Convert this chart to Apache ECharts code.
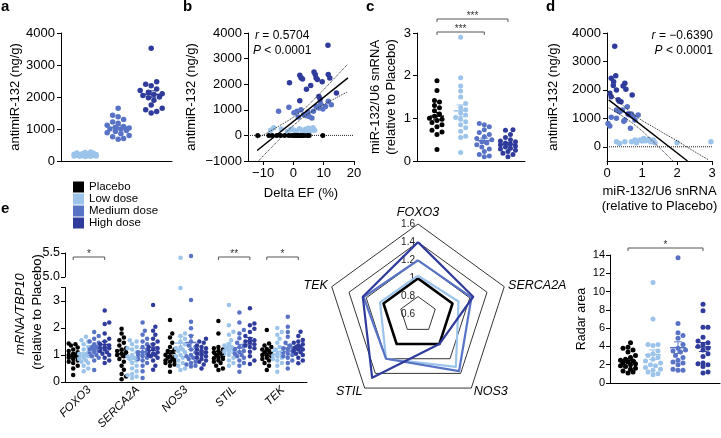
<!DOCTYPE html>
<html><head><meta charset="utf-8">
<script src="https://cdn.jsdelivr.net/npm/echarts@6/dist/echarts.min.js"></script>
<style>html,body{margin:0;padding:0;background:#fff}#c{width:721px;height:438px}</style>
</head><body><div id="c"></div><script>
const FONT = "'Liberation Sans', Arial, Helvetica, sans-serif";
const groups = ['Placebo', 'Low dose', 'Medium dose', 'High dose'];
const COLORS = ['#000000', '#9cc4ea', '#5873c6', '#2f3c9c'];

// ---- panel a: antimiR-132 (ng/g)
const aLow = [280, 265, 250, 240, 230, 220, 210, 200, 195, 185, 180, 170, 165, 160, 155, 150, 145, 140, 170, 190];
const aMedium = [1650, 1430, 1380, 1300, 1220, 1180, 1120, 1080, 1050, 1030, 1000, 990, 950, 920, 880, 850, 800, 760, 700, 680];
const aHigh = [3520, 2480, 2400, 2350, 2250, 2200, 2150, 2100, 2080, 2050, 2000, 1980, 1900, 1750, 1650, 1600, 1550, 1500];

// ---- panel b: Delta EF (%) vs antimiR-132
const bPlaceboX = [-11.8, -8.1, -7.0, -5.5, -4.2, -2.9, -1.5, -0.5, 0.2, 0.8, 1.2, 1.8, 2.4, 3.0, 3.5, 4.5, 5.2, 9.7];
const bPlaceboY = [0, 0, 0, 0, 0, 0, 0, 0, 0, 0, 0, 0, 0, 0, 0, 0, 0, 0];
const bLowX = [-7.5, -6.5, -4.0, -2.0, -1.0, 0.5, 2.0, 3.0, 3.5, 4.0, 4.5, 5.0, 5.5, 6.0, 6.5, 7.0, 3.0, 1.0, -0.5, 4.8];
const bLowY = [200, 300, 250, 150, 220, 180, 260, 200, 150, 240, 230, 280, 160, 230, 300, 200, 120, 100, 250, 180];
const bMediumX = [-4.9, -1.5, 1.2, 2.5, 3.4, 4.3, 5.2, 6.6, 7.5, 8.4, 9.7, 10.6, 11.5, 6.1, 1.6, 12.5, 0.2, 4.8, 9.0];
const bMediumY = [940, 1100, 940, 1000, 810, 770, 740, 940, 1130, 1070, 1030, 1130, 1330, 680, 720, 1200, 880, 900, 1250];
const bHighX = [11.4, -1.3, 2.1, 2.5, 3.0, 6.8, 7.2, 7.5, 7.9, 11.5, 12.0, 5.7, 4.3, 8.4, 8.8, 14.2, 2.1, 9.5];
const bHighY = [3520, 2060, 2350, 2250, 2200, 2480, 2380, 2240, 2180, 2380, 2240, 1950, 1800, 1520, 1420, 1660, 1350, 2100];
const bFitX = [-12, 18], bFitY = [-590, 2250];
const bUpperX = [-12, -5, 2, 8, 14, 18], bUpperY = [-110, 350, 890, 1550, 2290, 2790];
const bLowerX = [-12, -5, 2, 8, 14, 18], bLowerY = [-1060, -200, 590, 1060, 1460, 1710];

// ---- panel c: miR-132/U6 snRNA
const cPlacebo = [1.88, 1.65, 1.42, 1.38, 1.3, 1.25, 1.18, 1.1, 1.05, 1.0, 0.98, 0.95, 0.9, 0.85, 0.8, 0.72, 0.68, 0.62, 0.27];
const cLow = [2.9, 1.95, 1.76, 1.64, 1.5, 1.35, 1.25, 1.2, 1.12, 1.08, 1.02, 0.98, 0.92, 0.85, 0.78, 0.7, 0.58, 0.55, 0.2];
const cMedium = [0.88, 0.85, 0.8, 0.73, 0.67, 0.62, 0.57, 0.53, 0.5, 0.45, 0.42, 0.38, 0.33, 0.28, 0.22, 0.15, 0.1, 0.12];
const cHigh = [0.73, 0.72, 0.62, 0.55, 0.5, 0.47, 0.45, 0.42, 0.4, 0.38, 0.35, 0.33, 0.3, 0.28, 0.25, 0.22, 0.18, 0.15, 0.1];

// ---- panel d: miR-132/U6 vs antimiR-132
const dHighX = [0.22, 0.12, 0.25, 0.19, 0.08, 0.46, 0.54, 0.51, 0.32, 0.72, 0.12, 0.27, 0.40, 0.18, 0.60, 0.35];
const dHighY = [3530, 2410, 2500, 2290, 1880, 2140, 2020, 2235, 1650, 1820, 1760, 2000, 1580, 2150, 1150, 1600];
const dMediumX = [0.03, 0.08, 0.27, 0.36, 0.51, 0.65, 0.75, 0.80, 0.89, 0.67, 0.44, 0.58, 0.27, 0.12, 0.70, 0.48];
const dMediumY = [820, 730, 1000, 1235, 940, 1120, 1060, 940, 1120, 650, 1290, 1410, 1290, 1035, 1150, 900];
const dLowX = [0.27, 0.51, 0.80, 0.94, 1.05, 1.13, 1.25, 1.37, 2.00, 2.97, 0.70, 1.20, 0.84, 1.32, 0.36, 1.00, 1.10];
const dLowY = [176, 176, 235, 235, 294, 235, 176, 141, 141, 176, 176, 260, 141, 235, 118, 200, 210];
const dFitX = [0.05, 2.3], dFitY = [1650, -500];
const dUpperX = [0, 0.75, 1.5, 2.0, 2.3, 2.9], dUpperY = [2000, 1150, 565, 210, -20, -460];
const dLowerX = [0, 0.75, 1.5, 1.8, 2.0], dLowerY = [1400, 810, -35, -400, -630];

// ---- panel e: mRNA/TBP10 per gene, groups [Placebo, Low, Medium, High]
const eGenes = ['FOXO3', 'SERCA2A', 'NOS3', 'STIL', 'TEK'];
const eFOXO3 = [
  [1.43, 1.35, 1.28, 1.2, 1.1, 1.05, 1.0, 0.95, 0.9, 0.85, 0.8, 0.75, 0.7, 0.6, 0.5, 0.26, 1.4, 1.15, 1.0, 0.92],
  [1.68, 1.55, 1.5, 1.4, 1.3, 1.2, 1.1, 1.05, 1.0, 0.95, 0.9, 0.85, 0.8, 0.75, 0.7, 0.6, 0.5, 0.4, 1.0, 0.95],
  [1.85, 1.7, 1.6, 1.5, 1.45, 1.4, 1.3, 1.25, 1.2, 1.15, 1.1, 1.05, 1.0, 0.95, 0.9, 0.8, 0.44, 1.3, 1.2],
  [2.65, 2.2, 2.15, 1.8, 1.6, 1.5, 1.4, 1.35, 1.3, 1.25, 1.2, 1.15, 1.1, 1.05, 1.0, 0.9, 0.8, 0.7, 1.25]];
const eSERCA2A = [
  [1.97, 1.8, 1.65, 1.55, 1.45, 1.35, 1.25, 1.15, 1.1, 1.05, 1.0, 0.95, 0.85, 0.75, 0.6, 0.45, 0.3, 0.2, 0.1, 1.2],
  [1.55, 1.5, 1.4, 1.3, 1.25, 1.2, 1.1, 1.0, 0.95, 0.9, 0.85, 0.8, 0.7, 0.6, 0.5, 0.4, 0.3, 0.25, 0.2, 0.15],
  [2.2, 1.9, 1.75, 1.6, 1.5, 1.4, 1.3, 1.2, 1.1, 1.05, 1.0, 0.95, 0.9, 0.85, 0.8, 0.7, 0.6, 0.4, 0.15, 1.1],
  [2.85, 2.05, 1.9, 1.75, 1.6, 1.5, 1.4, 1.3, 1.25, 1.2, 1.15, 1.1, 1.05, 1.0, 0.95, 0.9, 0.8, 0.6, 0.45, 1.0]];
const eNOS3 = [
  [2.3, 1.8, 1.65, 1.45, 1.3, 1.15, 1.1, 1.0, 0.95, 0.9, 0.85, 0.8, 0.75, 0.7, 0.65, 0.6, 0.38, 1.2, 0.92, 0.78],
  [5.4, 3.48, 1.8, 1.7, 1.6, 1.5, 1.4, 1.3, 1.2, 1.15, 1.1, 1.0, 0.95, 0.9, 0.8, 0.7, 0.6, 0.5, 0.44, 1.25],
  [5.44, 3.04, 2.23, 1.99, 1.7, 1.5, 1.35, 1.2, 1.1, 0.95, 0.85, 0.75, 0.7, 0.65, 0.6, 0.57, 1.0, 0.9, 1.3],
  [1.6, 1.5, 1.45, 1.35, 1.3, 1.2, 1.15, 1.1, 1.05, 1.0, 0.95, 0.9, 0.85, 0.8, 0.75, 0.65, 0.5, 1.25]];
const eSTIL = [
  [2.26, 1.8, 1.3, 1.25, 1.2, 1.15, 1.1, 1.0, 0.95, 0.9, 0.85, 0.8, 0.75, 0.7, 0.6, 0.5, 0.44, 1.05, 0.88],
  [2.85, 2.1, 1.86, 1.75, 1.55, 1.4, 1.3, 1.25, 1.2, 1.15, 1.1, 1.05, 1.0, 0.9, 0.8, 0.7, 0.6, 1.35, 1.15],
  [2.57, 2.2, 1.93, 1.8, 1.62, 1.45, 1.35, 1.2, 1.15, 1.1, 1.0, 0.95, 0.9, 0.8, 0.7, 0.6, 0.38, 1.3, 1.05],
  [2.73, 2.17, 2.1, 1.97, 1.85, 1.7, 1.6, 1.5, 1.45, 1.4, 1.3, 1.25, 1.12, 0.95, 0.8, 0.67, 1.55, 1.35]];
const eTEK = [
  [1.93, 1.43, 1.35, 1.3, 1.22, 1.15, 1.1, 1.05, 1.0, 0.95, 0.9, 0.85, 0.8, 0.7, 0.6, 0.44, 1.2, 1.0],
  [2.0, 1.85, 1.75, 1.6, 1.45, 1.3, 1.2, 1.1, 1.05, 1.0, 0.95, 0.9, 0.85, 0.8, 0.7, 0.6, 0.38, 1.0],
  [2.42, 2.05, 1.85, 1.68, 1.45, 1.35, 1.25, 1.2, 1.1, 1.05, 1.0, 0.95, 0.9, 0.8, 0.7, 0.5, 1.15],
  [1.86, 1.7, 1.56, 1.5, 1.45, 1.4, 1.35, 1.3, 1.25, 1.2, 1.15, 1.1, 1.05, 1.0, 0.9, 0.8, 0.69, 1.3, 1.2]];

// ---- radar (gene order FOXO3, SERCA2A, NOS3, STIL, TEK)
const radarPlacebo = [1, 1, 1, 1, 1];
const radarLow = [1.03, 1.07, 1.31, 1.2, 1.04];
const radarMedium = [1.2, 1.22, 1.37, 1.2, 1.23];
const radarHigh = [1.4, 1.24, 1.0, 1.46, 1.24];

// ---- radar area
const areaPlacebo = [4.4, 3.9, 3.8, 3.6, 3.4, 3.0, 2.8, 2.6, 2.5, 2.4, 2.3, 2.2, 2.1, 2.0, 1.9, 1.8, 1.6, 1.5, 1.3, 1.2, 1.1];
const areaLow = [11.0, 7.0, 4.2, 4.2, 4.1, 3.5, 3.2, 3.0, 2.8, 2.6, 2.4, 2.2, 2.0, 1.9, 1.7, 1.5, 1.4, 1.2, 0.9, 1.0];
const areaMedium = [13.7, 6.5, 5.5, 5.2, 4.9, 4.2, 3.8, 3.6, 3.5, 3.0, 2.5, 2.3, 2.2, 1.5, 1.4, 1.4, 3.4, 2.8, 2.0];
const areaHigh = [8.6, 7.9, 6.1, 6.1, 5.0, 4.6, 4.4, 4.2, 4.0, 3.8, 3.6, 3.2, 2.9, 2.2, 2.1, 2.0, 1.8, 1.2, 1.1];

// ================= layout =================
const G = {
  a: {left: 61, top: 33, width: 111, height: 128},
  b: {left: 248, top: 33, width: 106, height: 128},
  c: {left: 417, top: 33, width: 108, height: 128},
  d: {left: 607, top: 33, width: 105, height: 128},
  eU: {left: 65, top: 253, width: 242, height: 24},
  eL: {left: 65, top: 287.5, width: 242, height: 94.5},
  r: {left: 610, top: 255, width: 110, height: 128}
};
const E_GROUP_PX = [-16, -5.5, 5, 15.5];

function merge(a, b) {
  const out = Object.assign({}, a);
  for (const k in b) {
    const bv = b[k];
    if (bv && typeof bv === 'object' && !Array.isArray(bv) && out[k] && typeof out[k] === 'object' && !Array.isArray(out[k])) out[k] = merge(out[k], bv);
    else out[k] = bv;
  }
  return out;
}
const minus = v => v < 0 ? '\u2212' + String(-v) : String(v);
function vAxis(gridIndex, o) {
  return merge({
    gridIndex, type: 'value', splitLine: {show: false},
    axisLine: {show: true, onZero: false, lineStyle: {color: '#000', width: 1}},
    axisTick: {show: true, length: 4, lineStyle: {color: '#000', width: 1}},
    axisLabel: {color: '#000', fontSize: 13, margin: 6, fontFamily: FONT, formatter: minus},
    nameTextStyle: {color: '#000', fontSize: 13, fontFamily: FONT}
  }, o || {});
}
function mean(a) { return a.reduce((s, v) => s + v, 0) / a.length; }
function sem(a) { const m = mean(a); const v = a.reduce((s, x) => s + (x - m) * (x - m), 0) / (a.length - 1); return Math.sqrt(v / a.length); }
function swarm(values, pxPerUnit, diam, maxW) {
  const order = values.map((v, i) => i).sort((p, q) => values[p] - values[q]);
  const placed = [], offs = new Array(values.length).fill(0);
  const step = diam * 0.5, n = Math.floor(maxW / step);
  order.forEach(i => {
    const y = values[i] * pxPerUnit;
    let best = 0, bestD = -1;
    for (let k = 0; k <= 2 * n; k++) {
      const s = (k % 2 === 1 ? 1 : -1) * Math.ceil(k / 2) * step;
      let md = Infinity;
      placed.forEach(p => { const d = Math.hypot(p.x - s, p.y - y); if (d < md) md = d; });
      if (md >= diam) { best = s; break; }
      if (md > bestD + 0.01) { bestD = md; best = s; }
    }
    placed.push({x: best, y}); offs[i] = best;
  });
  return offs;
}
function meanSeries(gi, items, halfW, capW) {
  return {
    type: 'custom', xAxisIndex: gi, yAxisIndex: gi, z: 5, silent: true, data: items, encode: {x: 0, y: 1},
    renderItem: (params, api) => {
      const x = api.value(0), m = api.value(1), s = api.value(2), off = api.value(3), ci = api.value(4);
      const c = api.coord([x, m]), t = api.coord([x, m + s]), b = api.coord([x, m - s]);
      const cx = c[0] + off, col = COLORS[ci];
      const thin = {stroke: col, lineWidth: 1};
      return {type: 'group', children: [
        {type: 'line', shape: {x1: cx - halfW, y1: c[1], x2: cx + halfW, y2: c[1]}, style: {stroke: col, lineWidth: 1.5}},
        {type: 'line', shape: {x1: cx, y1: t[1], x2: cx, y2: b[1]}, style: thin},
        {type: 'line', shape: {x1: cx - capW, y1: t[1], x2: cx + capW, y2: t[1]}, style: thin},
        {type: 'line', shape: {x1: cx - capW, y1: b[1], x2: cx + capW, y2: b[1]}, style: thin}
      ]};
    }
  };
}
function zip(xs, ys) { return xs.map((x, i) => [x, ys[i]]); }
function scat(gi, g, data, size) {
  return {type: 'scatter', name: groups[g], xAxisIndex: gi, yAxisIndex: gi, symbolSize: size, z: 3,
    itemStyle: {color: COLORS[g], opacity: 1}, data};
}
function catScatter(gi, sets, firstGroup, pxPerUnit, size, maxW, halfW, capW) {
  const out = [];
  sets.forEach((vals, k) => {
    const g = firstGroup + k, offs = swarm(vals, pxPerUnit, size, maxW);
    out.push(scat(gi, g, vals.map((v, i) => ({value: [k + 1, v], symbolOffset: [offs[i], 0]})), size));
  });
  out.push(meanSeries(gi, sets.map((vals, k) => [k + 1, mean(vals), sem(vals), 0, firstGroup + k]), halfW, capW));
  return out;
}
function dotted(gi, xs, ys, w) {
  return {type: 'line', xAxisIndex: gi, yAxisIndex: gi, data: zip(xs, ys), smooth: true, symbol: 'none', silent: true, z: 6,
    lineStyle: {color: '#222', width: w || 1, type: 'dotted'}};
}
function solid(gi, xs, ys) {
  return {type: 'line', xAxisIndex: gi, yAxisIndex: gi, data: zip(xs, ys), symbol: 'none', silent: true, z: 6,
    lineStyle: {color: '#000', width: 1.5}};
}

const series = [];
// a
series.push(...catScatter(0, [aLow, aMedium, aHigh], 1, G.a.height / 4000, 5.5, 11, 10, 5));
// b
series.push(scat(1, 1, zip(bLowX, bLowY), 5.5), scat(1, 2, zip(bMediumX, bMediumY), 5.5), scat(1, 3, zip(bHighX, bHighY), 5.5));
series.push(merge(scat(1, 0, zip(bPlaceboX, bPlaceboY), 5), {z: 7}));
series.push(merge(dotted(1, [-15, 20], [0, 0]), {smooth: false, z: 2}));
series.push(solid(1, bFitX, bFitY), dotted(1, bUpperX, bUpperY), dotted(1, bLowerX, bLowerY));
// c
series.push(...catScatter(2, [cPlacebo, cLow, cMedium, cHigh], 0, G.c.height / 3, 5, 9, 7, 4));
// d
series.push(scat(3, 1, zip(dLowX, dLowY), 5.5), scat(3, 2, zip(dMediumX, dMediumY), 5.5), scat(3, 3, zip(dHighX, dHighY), 5.5));
series.push(merge(dotted(3, [0, 3], [0, 0]), {smooth: false, z: 2}));
series.push(solid(3, dFitX, dFitY), dotted(3, dUpperX, dUpperY), dotted(3, dLowerX, dLowerY));
// e
const eSets = [eFOXO3, eSERCA2A, eNOS3, eSTIL, eTEK];
const pxL = G.eL.height / 3.5, pxU = G.eU.height / 0.5;
const eMeans = [];
for (let g = 0; g < 4; g++) {
  const lower = [], upper = [];
  eSets.forEach((set, gi) => {
    const vals = set[g];
    const lo = vals.filter(v => v <= 3.5), hi = vals.filter(v => v > 3.5);
    const oL = swarm(lo, pxL, 4.5, 5), oU = swarm(hi, pxU, 4.5, 5);
    lo.forEach((v, i) => lower.push({value: [gi, v], symbolOffset: [E_GROUP_PX[g] + oL[i], 0]}));
    hi.forEach((v, i) => upper.push({value: [gi, v], symbolOffset: [E_GROUP_PX[g] + oU[i], 0]}));
    eMeans.push([gi, mean(vals), sem(vals), E_GROUP_PX[g], g]);
  });
  series.push(scat(5, g, lower, 4.5));
  if (upper.length) series.push(scat(4, g, upper, 4.5));
}
series.push(meanSeries(5, eMeans, 5.5, 3));
// radar
const radarOrder = [0, 4, 3, 2, 1]; // FOXO3, TEK, STIL, NOS3, SERCA2A (counter-clockwise)
const radarSets = [radarPlacebo, radarLow, radarMedium, radarHigh];
series.push({
  type: 'radar', silent: true, symbol: 'none', z: 4,
  data: radarSets.map((vals, g) => ({
    name: groups[g], value: radarOrder.map(i => vals[i]),
    lineStyle: {color: COLORS[g], width: g === 0 ? 2.6 : 2.2}, itemStyle: {color: COLORS[g]}
  }))
});
// radar area
series.push(...catScatter(6, [areaPlacebo, areaLow, areaMedium, areaHigh], 0, G.r.height / 14, 5, 9, 8, 4));

const option = {
  animation: false,
  textStyle: {fontFamily: FONT},
  grid: Object.values(G).map(g => Object.assign({outerBoundsMode: 'none', containLabel: false}, g)),
  xAxis: [
    vAxis(0, {min: 0.27, max: 3.63, axisTick: {show: false}, axisLabel: {show: false}}),
    vAxis(1, {min: -15, max: 20, axisTick: {customValues: [-10, 0, 10, 20]},
      axisLabel: {customValues: [-10, 0, 10, 20], margin: 6},
      name: 'Delta EF (%)', nameLocation: 'middle', nameGap: 26}),
    vAxis(2, {min: 0.155, max: 4.72, axisTick: {show: false}, axisLabel: {show: false}}),
    vAxis(3, {min: 0, max: 3, interval: 1, name: 'miR-132/U6 snRNA\n(relative to Placebo)', nameLocation: 'middle', nameGap: 23,
      nameTextStyle: {lineHeight: 15}}),
    {gridIndex: 4, type: 'category', data: eGenes, show: false},
    {gridIndex: 5, type: 'category', data: eGenes,
      axisLine: {onZero: false, lineStyle: {color: '#000', width: 1}},
      axisTick: {alignWithLabel: true, length: 4, lineStyle: {color: '#000'}},
      axisLabel: {rotate: 45, interval: 0, fontStyle: 'italic', fontSize: 11.5, color: '#000', margin: 6, fontFamily: FONT},
      splitLine: {show: false}},
    vAxis(6, {min: 0.28, max: 4.68, axisTick: {show: false}, axisLabel: {show: false}})
  ],
  yAxis: [
    vAxis(0, {min: 0, max: 4000, interval: 1000, name: 'antimiR-132 (ng/g)', nameLocation: 'middle', nameGap: 39, nameRotate: 90}),
    vAxis(1, {min: -1000, max: 4000, interval: 1000,
      name: 'antimiR-132 (ng/g)', nameLocation: 'middle', nameGap: 50, nameRotate: 90}),
    vAxis(2, {min: 0, max: 3, interval: 1, name: 'miR-132/U6 snRNA\n(relative to Placebo)', nameLocation: 'middle', nameGap: 18,
      nameRotate: 90, nameTextStyle: {lineHeight: 16}}),
    vAxis(3, {min: -500, max: 4000, axisTick: {customValues: [0, 1000, 2000, 3000, 4000]},
      axisLabel: {customValues: [0, 1000, 2000, 3000, 4000]},
      name: 'antimiR-132 (ng/g)', nameLocation: 'middle', nameGap: 47, nameRotate: 90}),
    vAxis(4, {min: 5, max: 5.5, axisTick: {customValues: [5, 5.5]},
      axisLabel: {customValues: [5, 5.5], formatter: v => v.toFixed(1), fontSize: 12.5, margin: 5}}),
    vAxis(5, {min: 0, max: 3.5, axisTick: {customValues: [0, 1, 2, 3, 3.5]},
      axisLabel: {customValues: [0, 1, 2, 3], fontSize: 12.5, margin: 5}}),
    vAxis(6, {min: 0, max: 14, interval: 2, axisLabel: {fontSize: 11, margin: 5},
      name: 'Radar area', nameLocation: 'middle', nameGap: 22, nameRotate: 90, nameTextStyle: {fontSize: 12.5}})
  ],
  radar: {
    center: [418, 314.7], radius: 90.7, startAngle: 90, splitNumber: 5, shape: 'polygon', nameGap: 4,
    indicator: radarOrder.map((i, k) => Object.assign({name: eGenes[i], min: 0.6, max: 1.6},
      k === 0 ? {axisLabel: {show: true, fontSize: 10, color: '#222', margin: 3, fontFamily: FONT}} : {})),
    axisName: {color: '#000', fontStyle: 'italic', fontSize: 12.5, fontFamily: FONT},
    splitLine: {lineStyle: {color: '#000', width: 0.8}},
    splitArea: {show: false},
    axisLine: {show: false},
    axisTick: {show: false},
    axisLabel: {show: false}
  },
  legend: {
    data: groups, orient: 'vertical', left: 68, top: 176, itemWidth: 11, itemHeight: 11, itemGap: 0,
    icon: 'rect', selectedMode: false, textStyle: {fontSize: 11.5, color: '#000', fontFamily: FONT}
  },
  series
};

const chart = echarts.init(document.getElementById('c'), null, {renderer: 'canvas'});
chart.setOption(option);

// ---------- annotations ----------
function txt(x, y, text, style, extra) {
  return Object.assign({type: 'text', x, y, silent: true, z: 50,
    style: Object.assign({text, fontFamily: FONT, fontSize: 12, fill: '#000', align: 'left', verticalAlign: 'middle'}, style || {})}, extra || {});
}
const rich = {i: {fontStyle: 'italic', fontFamily: FONT, fontSize: 12}};
function px(gi, x) { return chart.convertToPixel({gridIndex: gi}, [x, 0])[0]; }
function bracket(gi, x1, x2, y, label, o1, o2) {
  const p1 = px(gi, x1) + (o1 || 0), p2 = px(gi, x2) + (o2 || 0);
  return [
    {type: 'polyline', silent: true, z: 50, shape: {points: [[p1, y + 3], [p1, y], [p2, y], [p2, y + 3]]},
      style: {stroke: '#555', lineWidth: 1, fill: null}},
    txt((p1 + p2) / 2, y - 3, label, {align: 'center', fontSize: 10, fill: '#333'})
  ];
}
const graphic = [
  txt(1, 7, 'a', {fontWeight: 'bold', fontSize: 15}),
  txt(183, 7, 'b', {fontWeight: 'bold', fontSize: 15}),
  txt(366, 7, 'c', {fontWeight: 'bold', fontSize: 15}),
  txt(546, 7, 'd', {fontWeight: 'bold', fontSize: 15}),
  txt(1, 209, 'e', {fontWeight: 'bold', fontSize: 15}),
  txt(255, 36, '{i|r} = 0.5704', {rich, fontSize: 12}),
  txt(253, 51, '{i|P} < 0.0001', {rich, fontSize: 12}),
  txt(713, 36, '{i|r} = \u22120.6390', {rich, fontSize: 12, align: 'right'}),
  txt(713, 51, '{i|P} < 0.0001', {rich, fontSize: 12, align: 'right'}),
  txt(20, 314, 'mRNA/TBP10', {fontStyle: 'italic', fontSize: 13, align: 'center'}, {rotation: Math.PI / 2}),
  txt(37, 312, '(relative to Placebo)', {fontSize: 13, align: 'center'}, {rotation: Math.PI / 2}),
  ...bracket(2, 1, 4, 19, '***'),
  ...bracket(2, 1, 3, 32, '***'),
  ...bracket(5, 0, 0, 257, '*', E_GROUP_PX[0], E_GROUP_PX[3]),
  ...bracket(5, 3, 3, 257, '**', E_GROUP_PX[0], E_GROUP_PX[3]),
  ...bracket(5, 4, 4, 257, '*', E_GROUP_PX[0], E_GROUP_PX[3]),
  ...bracket(6, 1, 4, 248, '*')
];
chart.setOption({graphic});
</script></body></html>
